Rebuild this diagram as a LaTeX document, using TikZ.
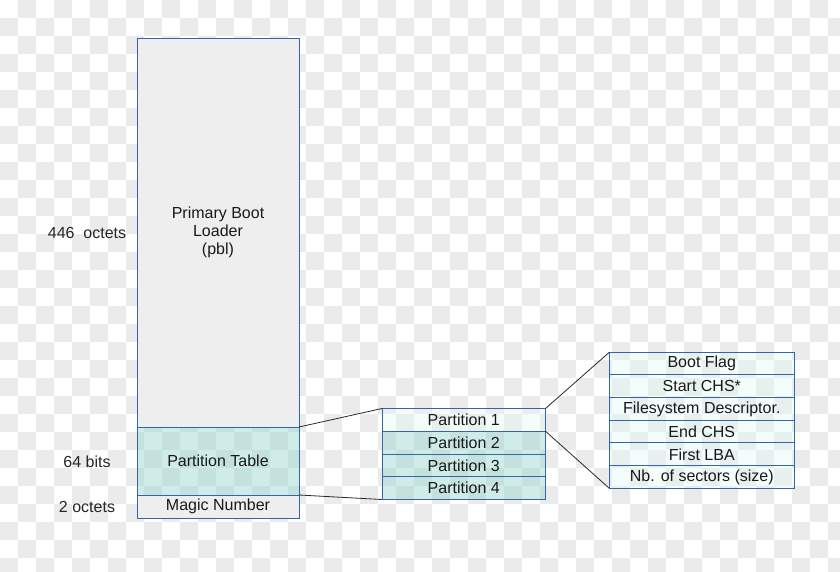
\documentclass[tikz,border=0pt]{standalone}
\usepackage{fontspec}
\setmainfont{Liberation Sans}
\definecolor{bord}{RGB}{52,101,164}
\definecolor{chk}{RGB}{235,235,235}
\definecolor{boxgrey}{RGB}{238,238,238}
\definecolor{tealfill}{RGB}{149,213,207}
\definecolor{palefill}{RGB}{226,248,248}
\definecolor{conn}{RGB}{40,40,40}
\begin{document}
\begin{tikzpicture}[x=1pt,y=-1pt,
  font=\fontsize{16}{18}\selectfont,
  blk/.style={draw=bord, line width=1pt, anchor=north west, inner sep=0pt, outer sep=0pt, text=black!90, align=center},
  greyblk/.style={blk, fill=boxgrey},
  tealblk/.style={blk, fill=tealfill, fill opacity=0.45, text opacity=1},
  paleblk/.style={blk, fill=palefill, fill opacity=0.35, text opacity=1},
  partrow/.style={minimum width=163.5pt, minimum height=22.75pt},
  fieldrow/.style={minimum width=185pt, minimum height=22.67pt},
  sizelabel/.style={text=black!85},
  connector/.style={draw=conn, line width=0.8pt}]
\useasboundingbox (0,0) rectangle (840,571);
\begin{scope}
\clip (0,0) rectangle (840,571);
\fill[white] (0,0) rectangle (840,571);
\foreach \i in {0,...,46}{
  \foreach \j in {0,...,31}{
    \pgfmathtruncatemacro{\oddcell}{mod(\i+\j,2)}
    \ifnum\oddcell=1 \fill[chk] (\i*18,\j*18) rectangle ++(18,18); \fi
  }
}
\end{scope}

% main block
\node[greyblk, minimum width=162pt, minimum height=389pt] (pbl) at (137,38) {Primary Boot\\Loader\\(pbl)};
\node[tealblk, minimum width=162pt, minimum height=68pt] (pt) at (137,427) {Partition Table};
\node[greyblk, minimum width=162pt, minimum height=23pt] (magic) at (137,495) {Magic Number};

% size labels
\node[sizelabel] (l446) at (87,232.5) {446\ \ octets};
\node[sizelabel] (l64) at (87,461.5) {64 bits};
\node[sizelabel] (l2) at (87,507) {2 octets};

% partitions
\node[paleblk, partrow] (p1) at (382,408.5) {Partition 1};
\node[tealblk, partrow] (p2) at (382,431.25) {Partition 2};
\node[tealblk, partrow] (p3) at (382,454) {Partition 3};
\node[tealblk, partrow] (p4) at (382,476.75) {Partition 4};

% fields
\node[paleblk, fieldrow] (f1) at (609.3,352.3) {Boot Flag};
\node[paleblk, fieldrow] (f2) at (609.3,374.97) {Start CHS*};
\node[paleblk, fieldrow] (f3) at (609.3,397.64) {Filesystem Descriptor.};
\node[paleblk, fieldrow] (f4) at (609.3,420.31) {End CHS};
\node[paleblk, fieldrow] (f5) at (609.3,442.98) {First LBA};
\node[paleblk, fieldrow] (f6) at (609.3,465.65) {Nb. of sectors (size)};

% connectors
\draw[connector] (pt.north east) -- (p1.north west);
\draw[connector] (pt.south east) -- (p4.south west);
\draw[connector] (p1.north east) -- (f1.north west);
\draw[connector] (p2.north east) -- (f6.south west);
\end{tikzpicture}
\end{document}
